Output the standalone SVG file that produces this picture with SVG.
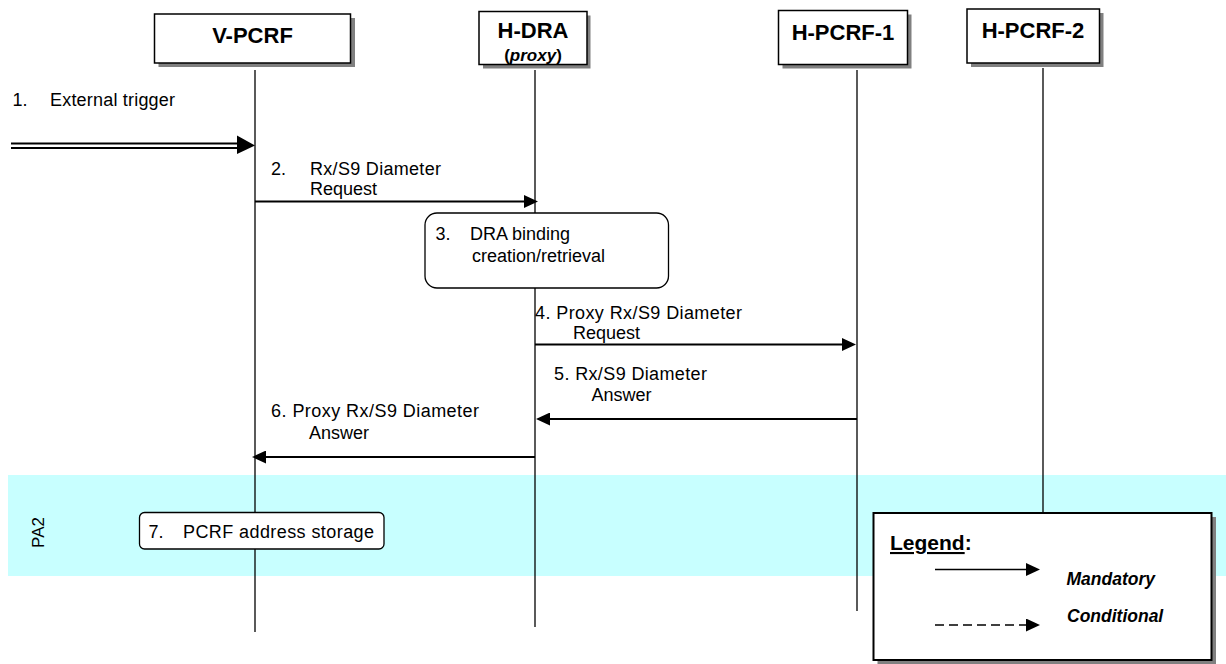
<svg xmlns="http://www.w3.org/2000/svg" width="1226" height="664" viewBox="0 0 1226 664">
<style>
  text { font-family: "Liberation Sans", Arial, sans-serif; fill: #000; }
  .lbl { font-size: 18px; }
  .node { font-size: 22px; font-weight: bold; text-anchor: middle; }
  .box { fill: #fff; stroke: #000; stroke-width: 1.5; }
  .shadow { fill: #808080; stroke: none; }
  .life { stroke: #000; stroke-width: 1.3; fill: none; }
  .msg { stroke: #000; stroke-width: 2; fill: none; }
  .rbox { fill: #fff; stroke: #000; stroke-width: 1.3; }
  .leg { font-size: 17.5px; font-weight: bold; font-style: italic; }
</style>
<defs>
  <marker id="ah" viewBox="0 0 14 13" refX="10" refY="6.5" markerWidth="14" markerHeight="13" markerUnits="userSpaceOnUse" orient="auto">
    <path d="M0,0 L14,6.5 L0,13 Z" fill="#000"/>
  </marker>
</defs>

<!-- Procedure band -->
<g id="band-PA2">
  <rect x="8" y="475" width="1218" height="101" fill="#C8FFFF"/>
  <text class="lbl" style="font-size:17px" text-anchor="middle" transform="translate(44,532.5) rotate(-90)">PA2</text>
</g>

<!-- Lifelines -->
<g id="lifelines">
  <line class="life" x1="255" y1="70" x2="255" y2="632"/>
  <line class="life" x1="535" y1="70" x2="535" y2="627"/>
  <line class="life" x1="857" y1="70" x2="857" y2="611"/>
  <line class="life" x1="1043" y1="68" x2="1043" y2="513"/>
</g>

<!-- Nodes -->
<g id="node-V-PCRF">
  <rect class="shadow" x="158.5" y="18" width="196.5" height="49"/>
  <rect class="box" x="154.5" y="14" width="196" height="49"/>
  <text class="node" x="252.5" y="43">V-PCRF</text>
</g>
<g id="node-H-DRA">
  <rect class="shadow" x="483" y="15.5" width="107.5" height="53"/>
  <rect class="box" x="479" y="11.5" width="108" height="53"/>
  <text class="node" x="533" y="38">H-DRA</text>
  <text class="node" x="533" y="61" style="font-size:17px">(<tspan font-style="italic">proxy</tspan>)</text>
</g>
<g id="node-H-PCRF-1">
  <rect class="shadow" x="782.5" y="14.5" width="129" height="54"/>
  <rect class="box" x="778.5" y="10.5" width="129" height="54"/>
  <text class="node" x="843" y="40">H-PCRF-1</text>
</g>
<g id="node-H-PCRF-2">
  <rect class="shadow" x="971" y="13" width="132.5" height="54"/>
  <rect class="box" x="967" y="9" width="132.5" height="54"/>
  <text class="node" x="1033" y="38">H-PCRF-2</text>
</g>

<!-- Connectors -->
<g id="connectors">
  <!-- 1 external trigger -->
  <line stroke="#000" stroke-width="1.8" x1="11" y1="143.5" x2="240" y2="143.5"/>
  <line stroke="#000" stroke-width="1.8" x1="11" y1="148" x2="240" y2="148"/>
  <polygon points="237,135.5 255,145.5 237,154" fill="#000"/>
  <!-- 2 -->
  <line class="msg" x1="255" y1="201.5" x2="534" y2="201.5" marker-end="url(#ah)"/>
  <!-- 4 -->
  <line class="msg" x1="535" y1="344.5" x2="852" y2="344.5" marker-end="url(#ah)"/>
  <!-- 5 -->
  <line class="msg" x1="857" y1="419" x2="540" y2="419" marker-end="url(#ah)"/>
  <!-- 6 -->
  <line class="msg" x1="535" y1="457" x2="256" y2="457" marker-end="url(#ah)"/>
</g>

<!-- Message labels -->
<g id="label-1">
  <text class="lbl" x="12.5" y="105.5">1.</text>
  <text class="lbl" x="50" y="105.5" textLength="125">External trigger</text>
</g>
<g id="label-2">
  <text class="lbl" x="271" y="175">2.</text>
  <text class="lbl" x="310" y="175" textLength="131">Rx/S9 Diameter</text>
  <text class="lbl" x="310" y="195">Request</text>
</g>
<g id="step-3">
  <rect class="rbox" x="425" y="213" width="243.5" height="75" rx="12" ry="12"/>
  <text class="lbl" x="435.5" y="240">3.</text>
  <text class="lbl" x="470" y="240">DRA binding</text>
  <text class="lbl" x="472" y="262">creation/retrieval</text>
</g>
<g id="label-4">
  <text class="lbl" x="535" y="318.5" textLength="207">4. Proxy Rx/S9 Diameter</text>
  <text class="lbl" x="573" y="339">Request</text>
</g>
<g id="label-5">
  <text class="lbl" x="554" y="380" textLength="153">5. Rx/S9 Diameter</text>
  <text class="lbl" x="591.5" y="400.5">Answer</text>
</g>
<g id="label-6">
  <text class="lbl" x="271" y="417" textLength="208">6. Proxy Rx/S9 Diameter</text>
  <text class="lbl" x="309" y="439">Answer</text>
</g>
<g id="step-7">
  <rect class="rbox" x="139.5" y="512.5" width="244.5" height="36.5" rx="5" ry="5"/>
  <text class="lbl" x="148.5" y="538">7.</text>
  <text class="lbl" x="183" y="538" textLength="191">PCRF address storage</text>
</g>

<!-- Legend -->
<g id="legend">
  <rect class="shadow" x="877.5" y="517" width="338.5" height="147"/>
  <rect x="873.5" y="513" width="338" height="147" fill="#fff" stroke="#000" stroke-width="2"/>
  <text x="890" y="550" style="font-size:21px;font-weight:bold"><tspan text-decoration="underline">Legend</tspan>:</text>
  <line stroke="#000" stroke-width="1.6" x1="935" y1="569.5" x2="1036" y2="569.5" marker-end="url(#ah)"/>
  <text class="leg" x="1066.5" y="585">Mandatory</text>
  <line stroke="#000" stroke-width="1.6" stroke-dasharray="9 5" x1="935" y1="625" x2="1036" y2="625" marker-end="url(#ah)"/>
  <text class="leg" x="1067" y="622">Conditional</text>
</g>
</svg>
